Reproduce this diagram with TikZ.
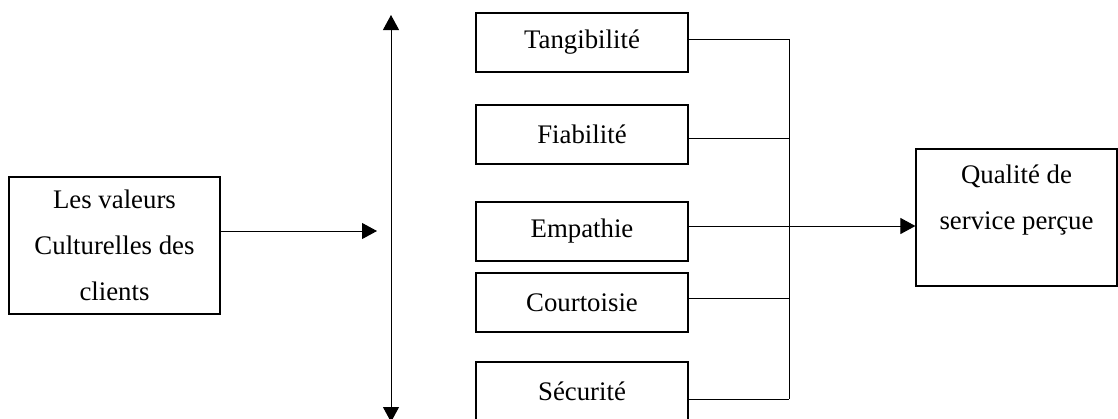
\documentclass[tikz,border=0pt]{standalone}
\usepackage{fontspec}
\setmainfont{Liberation Serif}
\usetikzlibrary{arrows.meta,positioning}

\begin{document}
\begin{tikzpicture}[x=0.5pt,y=-0.5pt,
			txt/.style={font=\fontsize{13.4}{23}\selectfont,align=center},
			box/.style={draw,rectangle,line width=0.6pt,inner sep=0pt,txt},
			dimbox/.style={box,minimum width=106pt,minimum height=29.5pt},
			tip/.style={-{Triangle[length=7.5pt,width=8pt]}},
			line/.style={line width=0.5pt}]
			\useasboundingbox (0,0) rectangle (1118,418);
			\node (vals) [box,minimum width=105.5pt,minimum height=68.5pt] at (114.5,245.5) {Les valeurs\\Culturelles des\\clients};
			\node (tang) [dimbox] at (582,42.5) {Tangibilité};
			\node (fiab) [dimbox] at (582,134.5) {Fiabilité};
			\node (emp) [dimbox] at (582,231.5) {Empathie};
			\node (court) [dimbox] at (582,302.5) {Courtoisie};
			\node (secu) [dimbox] at (582,391.5) {Sécurité};
			\node (qual) [box,minimum width=100.5pt,minimum height=68.5pt,
				label={[txt,anchor=north,inner sep=0pt,yshift=-8pt]north:Qualité de\\service perçue}] at (1016.5,217.5) {};
			% double arrow
			\coordinate (up) at (391,15);
			\coordinate (down) at (391,422);
			\draw [line,{Triangle[length=7.5pt,width=8pt]}-{Triangle[length=7.5pt,width=8pt]}] (up) -- (down);
			\coordinate (head) at (377,231);
			\draw [line,tip] (vals.east |- head) -- (head);
			% bus
			\coordinate (bustop) at (789,39);
			\coordinate (busbot) at (789,399);
			\draw [line] (bustop) -- (busbot);
			\foreach \n/\y in {tang/39,fiab/138,court/298,secu/399}
				\draw [line] (\n.east |- 0,\y) -- (bustop |- 0,\y);
			\draw [line,tip] (emp.east |- 0,226) -- (qual.west |- 0,226);
		\end{tikzpicture}
\end{document}
